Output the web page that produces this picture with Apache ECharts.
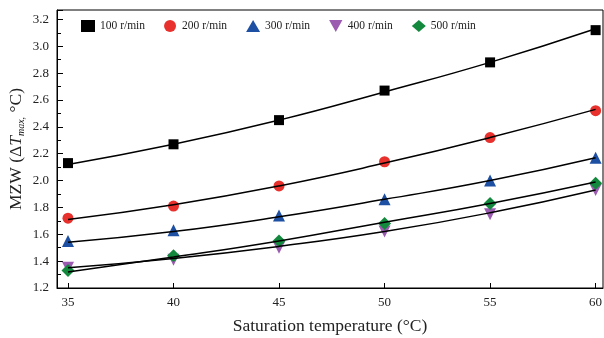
<!DOCTYPE html>
<html><head><meta charset="utf-8">
<script src="https://cdn.jsdelivr.net/npm/echarts@6/dist/echarts.min.js"></script>
<style>html,body{margin:0;padding:0;background:#fff}#c{width:604px;height:338px}</style>
</head><body><div id="c"></div>
<script>
const temps = [35, 40, 45, 50, 55, 60];
const seriesNames = ['100 r/min', '200 r/min', '300 r/min', '400 r/min', '500 r/min'];
const v100 = [2.13, 2.27, 2.45, 2.67, 2.88, 3.12];
const v200 = [1.72, 1.81, 1.96, 2.14, 2.32, 2.52];
const v300 = [1.55, 1.63, 1.74, 1.86, 2.00, 2.17];
const v400 = [1.35, 1.41, 1.50, 1.62, 1.75, 1.93];
const v500 = [1.33, 1.44, 1.55, 1.68, 1.83, 1.98];
// fitted curves
const f100 = [2.12, 2.27, 2.45, 2.66, 2.88, 3.13];
const f200 = [1.71, 1.82, 1.96, 2.13, 2.32, 2.53];
const f300 = [1.54, 1.62, 1.73, 1.86, 2.00, 2.17];
const f400 = [1.35, 1.42, 1.51, 1.62, 1.76, 1.93];
const f500 = [1.32, 1.43, 1.55, 1.69, 1.83, 1.99];
const xTicks = [35, 40, 45, 50, 55, 60];

const values = [v100, v200, v300, v400, v500];
const fits = [f100, f200, f300, f400, f500];
const colors = ['#000000', '#e8302c', '#1d4fa3', '#9b5bb0', '#13893e'];
const symbols = ['rect', 'circle', 'triangle', 'path://M0,0 L10,0 L5,9 Z', 'diamond'];
const sizes = [10, 11, 12, 12, 13];
const font = 'Liberation Serif';

const series = [];
values.forEach((vals, i) => {
  series.push({
    name: seriesNames[i], type: 'scatter', symbol: symbols[i], symbolSize: sizes[i],
    itemStyle: {color: colors[i], opacity: 1}, z: 2,
    data: temps.map((t, k) => [t, vals[k]])
  });
});
fits.forEach((vals, i) => {
  series.push({
    name: 'fit' + i, type: 'line', smooth: true, showSymbol: false, symbol: 'none',
    lineStyle: {color: '#000', width: 1.5}, z: 3, silent: true,
    data: temps.map((t, k) => [t, vals[k]])
  });
});

const chart = echarts.init(document.getElementById('c'));
chart.setOption({
  animation: false,
  backgroundColor: '#fff',
  grid: {left: 57, right: 1, top: 10, bottom: 50, show: true, borderColor: '#000', borderWidth: 1,
    containLabel: false, outerBoundsMode: 'none'},
  legend: {
    data: seriesNames, left: 76, top: 15, itemGap: 19, itemWidth: 14, itemHeight: 12,
    textStyle: {fontFamily: font, fontSize: 11.5, color: '#222'}
  },
  xAxis: {
    type: 'value', min: 34.48, max: 60.35,
    name: 'Saturation temperature (°C)', nameLocation: 'middle', nameGap: 29,
    nameMoveOverlap: false,
    nameTextStyle: {fontFamily: font, fontSize: 17.5, color: '#222'},
    axisLine: {lineStyle: {color: '#000'}},
    axisTick: {inside: true, length: 5, customValues: xTicks, lineStyle: {color: '#000'}},
    axisLabel: {customValues: xTicks, fontFamily: font, fontSize: 13, color: '#222', margin: 8},
    splitLine: {show: false}
  },
  yAxis: {
    type: 'value', min: 1.2, max: 3.27, interval: 0.2,
    name: '{n|MZW (Δ}{i|T}{s|max,}{n| °C)}', nameLocation: 'middle', nameGap: 31,
    nameMoveOverlap: false,
    nameTextStyle: {
      rich: {
        n: {fontFamily: font, fontSize: 17.5, color: '#222'},
        i: {fontFamily: font, fontSize: 17.5, fontStyle: 'italic', color: '#222'},
        s: {fontFamily: font, fontSize: 10, fontStyle: 'italic', color: '#222', verticalAlign: 'bottom', padding: [9, 0, 0, 0]}
      }
    },
    axisLine: {show: true, lineStyle: {color: '#000'}},
    axisTick: {inside: true, length: 6, lineStyle: {color: '#000'}},
    minorTick: {show: true, splitNumber: 2, length: 4, lineStyle: {color: '#000'}},
    axisLabel: {fontFamily: font, fontSize: 13, color: '#222', margin: 8, showMaxLabel: false,
      formatter: v => v.toFixed(1)},
    splitLine: {show: false}
  },
  series: series
});
</script></body></html>
